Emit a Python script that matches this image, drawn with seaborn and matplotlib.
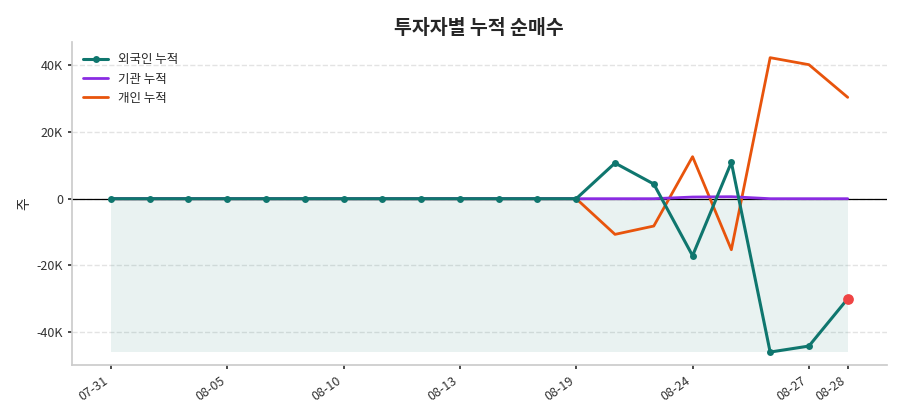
import matplotlib
matplotlib.use("Agg")
import matplotlib.pyplot as plt
import seaborn as sns
import numpy as np
import pandas as pd

dates = ["07-31","08-01","08-04","08-05","08-06","08-07","08-10","08-11","08-12","08-13",
         "08-14","08-18","08-19","08-20","08-21","08-24","08-25","08-26","08-27","08-28"]
foreign = [0]*13 + [10700, 4400, -17100, 10900, -46000, -44200, -30000]
inst = [0]*13 + [0, 0, 500, 600, 0, 0, 0]
indiv = [0]*13 + [-10700, -8200, 12600, -15300, 42300, 40200, 30400]
tick_idx = [0, 3, 6, 9, 12, 15, 18, 19]

sns.set_theme(style="ticks")
plt.rcParams['font.family'] = ['Noto Sans CJK KR', 'DejaVu Sans']
plt.rcParams['axes.unicode_minus'] = False

df = pd.DataFrame({"x": np.arange(len(dates)), "foreign": foreign, "inst": inst, "indiv": indiv})
fig, ax = plt.subplots(figsize=(9, 4.2), dpi=100)
ax.fill_between(df.x, min(foreign), 0, color="#0f766e", alpha=0.09, linewidth=0)
ax.axhline(0, color="black", lw=0.9, zorder=1)
sns.lineplot(data=df, x="x", y="indiv", ax=ax, color="#e8540c", lw=2, label="개인 누적", zorder=2)
sns.lineplot(data=df, x="x", y="inst", ax=ax, color="#8a2be2", lw=2, label="기관 누적", zorder=3)
sns.lineplot(data=df, x="x", y="foreign", ax=ax, color="#0f766e", lw=2.2, marker="o",
             markersize=5, markeredgewidth=0, label="외국인 누적", zorder=4)
ax.scatter([df.x.iloc[-1]], [foreign[-1]], color="#ef4444", s=45, zorder=5)
ax.set_xticks(tick_idx)
ax.set_xticklabels([dates[i] for i in tick_idx], rotation=35, ha="right", fontsize=9)
ax.set_xlim(-1, 20)
ax.set_ylim(-50000, 47000)
ax.set_yticks([-40000, -20000, 0, 20000, 40000])
ax.set_yticklabels(["-40K", "-20K", "0", "20K", "40K"], fontsize=9)
ax.set_xlabel("")
ax.set_ylabel("주", fontsize=10)
ax.yaxis.grid(True, linestyle="--", color="#e3e3e3")
for s in ["top", "right"]:
    ax.spines[s].set_visible(False)
for s in ["left", "bottom"]:
    ax.spines[s].set_color("#cccccc")
ax.tick_params(colors="#333333", length=3)
ax.set_title("투자자별 누적 순매수", fontsize=14, fontweight="bold")
h, l = ax.get_legend_handles_labels()
order = [2, 1, 0]
ax.legend([h[i] for i in order], [l[i] for i in order], loc="upper left", frameon=False, fontsize=9)
fig.subplots_adjust(left=0.08, right=0.985, top=0.9, bottom=0.13)
fig.savefig("out.png")
